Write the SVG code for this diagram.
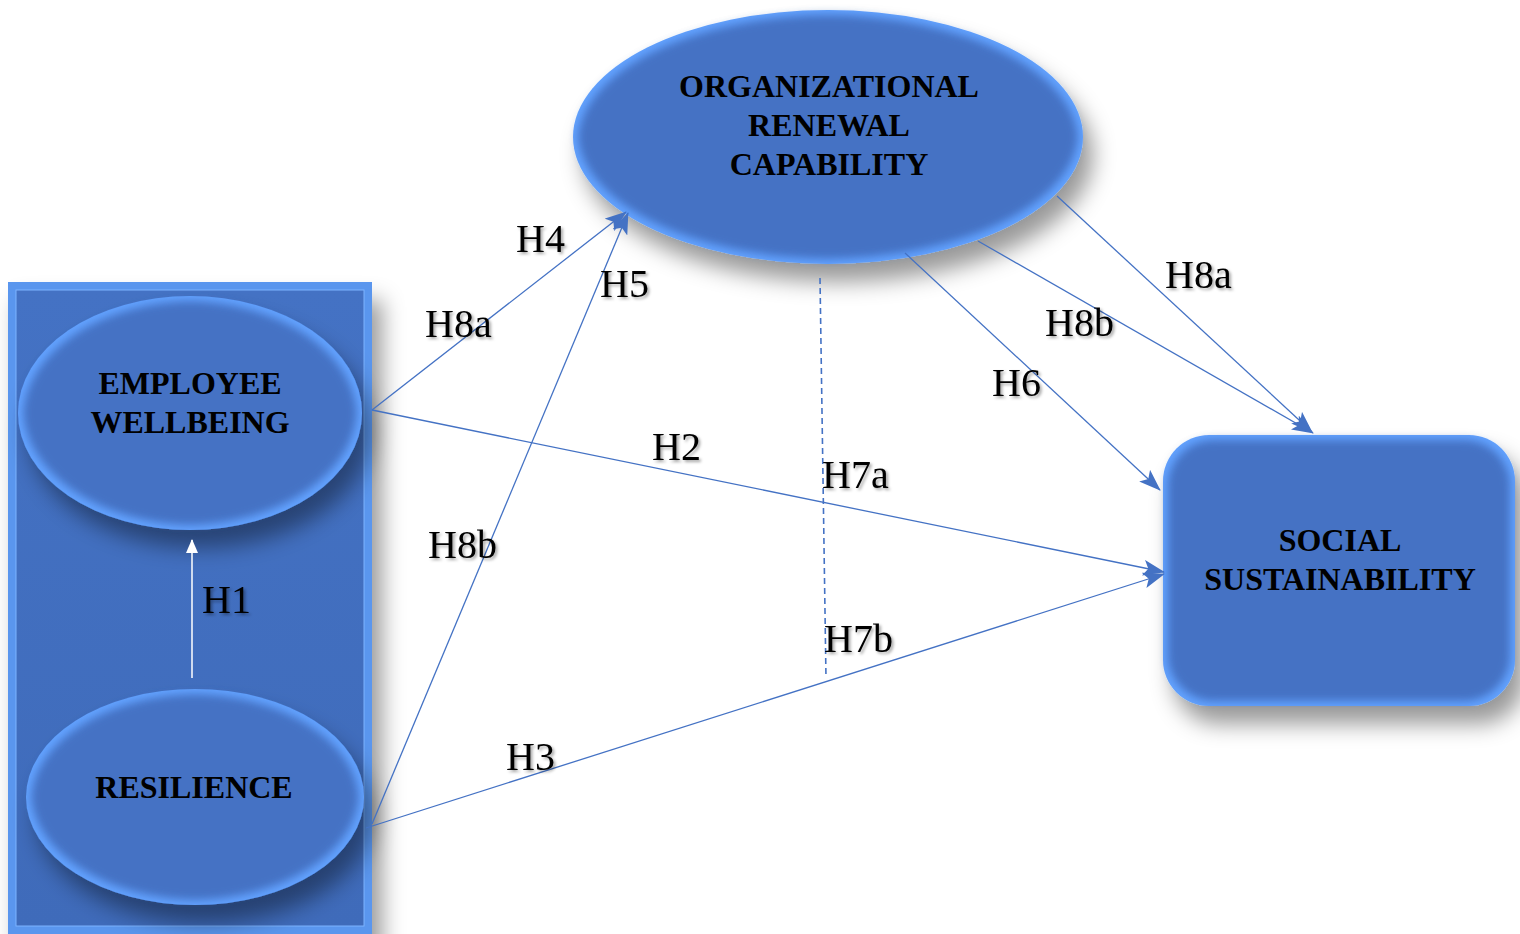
<svg xmlns="http://www.w3.org/2000/svg" width="1520" height="934" viewBox="0 0 1520 934">
  <defs>
    <style>
      .node-text { font-family: "Liberation Serif", "Times New Roman", serif; font-weight: bold; font-size: 32px; fill: #000; text-anchor: middle; }
      .hyp { font-family: "Liberation Serif", "Times New Roman", serif; font-size: 40px; fill: #000; filter: url(#textShadow); }
      .link { fill: none; stroke: #4472C4; stroke-width: 1.3; marker-end: url(#arrow); }
      .rim { fill: #62A2FF; }
      .face { fill: #4472C4; filter: url(#softEdge); }
    </style>
    <!-- drop shadow under shapes -->
    <filter id="shadow" x="-20%" y="-20%" width="150%" height="170%">
      <feGaussianBlur in="SourceAlpha" stdDeviation="11"/>
      <feOffset dx="10" dy="18" result="b"/>
      <feFlood flood-color="#000" flood-opacity="0.4"/>
      <feComposite in2="b" operator="in"/>
      <feMerge><feMergeNode/><feMergeNode in="SourceGraphic"/></feMerge>
    </filter>
    <!-- soft inner edge: shrink then blur the face so the lighter rim shows through -->
    <filter id="softEdge" x="-10%" y="-10%" width="120%" height="120%">
      <feMorphology in="SourceGraphic" operator="erode" radius="5"/>
      <feGaussianBlur stdDeviation="4"/>
    </filter>
    <filter id="textShadow" x="-20%" y="-30%" width="150%" height="170%">
      <feDropShadow dx="2" dy="2" stdDeviation="1.5" flood-color="#000" flood-opacity="0.35"/>
    </filter>
    <linearGradient id="frameFace" x1="0" y1="0" x2="0" y2="1">
      <stop offset="0" stop-color="#4472C4"/>
      <stop offset="1" stop-color="#3F6BBA"/>
    </linearGradient>
    <marker id="arrow" viewBox="0 0 22 16" refX="21" refY="8" markerUnits="userSpaceOnUse" markerWidth="22" markerHeight="16" orient="auto">
      <path d="M0,0 L22,8 L0,16 L5,8 z" fill="#4472C4"/>
    </marker>
    <marker id="arrowWhite" viewBox="0 0 14 12" refX="13" refY="6" markerUnits="userSpaceOnUse" markerWidth="14" markerHeight="12" orient="auto">
      <path d="M0,0 L14,6 L0,12 z" fill="#FFFFFF"/>
    </marker>
  </defs>

  <rect width="1520" height="934" fill="#FFFFFF"/>

  <!-- container frame holding the two antecedent constructs -->
  <g id="frame">
    <rect x="8" y="282" width="364" height="660" fill="#5A96EE" filter="url(#shadow)"/>
    <rect x="16" y="290" width="348" height="636" fill="url(#frameFace)" stroke="#7DB3FF" stroke-width="1"/>
  </g>

  <g id="employee-wellbeing">
    <g filter="url(#shadow)">
      <ellipse class="rim" cx="190" cy="413" rx="172" ry="117"/>
    </g>
    <ellipse class="face" cx="190" cy="413" rx="172" ry="117"/>
    <text class="node-text" x="190" y="394">EMPLOYEE</text>
    <text class="node-text" x="190" y="433">WELLBEING</text>
  </g>

  <g id="resilience">
    <g filter="url(#shadow)">
      <ellipse class="rim" cx="195" cy="797" rx="169" ry="108"/>
    </g>
    <ellipse class="face" cx="195" cy="797" rx="169" ry="108"/>
    <text class="node-text" x="194" y="798">RESILIENCE</text>
  </g>

  <g id="organizational-renewal-capability">
    <g filter="url(#shadow)">
      <ellipse class="rim" cx="828" cy="137" rx="255" ry="127"/>
    </g>
    <ellipse class="face" cx="828" cy="137" rx="255" ry="127"/>
    <text class="node-text" x="829" y="97">ORGANIZATIONAL</text>
    <text class="node-text" x="829" y="136">RENEWAL</text>
    <text class="node-text" x="829" y="175">CAPABILITY</text>
  </g>

  <g id="social-sustainability">
    <g filter="url(#shadow)">
      <rect class="rim" x="1163" y="435" width="352" height="271" rx="46"/>
    </g>
    <rect class="face" x="1163" y="435" width="352" height="271" rx="46"/>
    <text class="node-text" x="1340" y="551">SOCIAL</text>
    <text class="node-text" x="1340" y="590">SUSTAINABILITY</text>
  </g>

  <g id="connectors">
    <path class="link" d="M372,410 L626,212"/>
    <path class="link" d="M372,824 L628,213"/>
    <path class="link" d="M372,410 L1164,572"/>
    <path class="link" d="M366,828 L1164,574"/>
    <path class="link" d="M905,253 L1160,490"/>
    <path class="link" d="M978,241 L1313,433"/>
    <path class="link" d="M1057,196 L1312,432"/>
    <path d="M820,278 L826,678" fill="none" stroke="#4472C4" stroke-width="1.6" stroke-dasharray="6 4"/>
    <path d="M192,678 L192,540" fill="none" stroke="#FFFFFF" stroke-width="1.5" marker-end="url(#arrowWhite)"/>
  </g>

  <g id="hypothesis-labels">
    <text class="hyp" x="516" y="252">H4</text>
    <text class="hyp" x="600" y="297">H5</text>
    <text class="hyp" x="425" y="337">H8a</text>
    <text class="hyp" x="652" y="460">H2</text>
    <text class="hyp" x="822" y="488">H7a</text>
    <text class="hyp" x="428" y="558">H8b</text>
    <text class="hyp" x="202" y="613">H1</text>
    <text class="hyp" x="824" y="652">H7b</text>
    <text class="hyp" x="506" y="770">H3</text>
    <text class="hyp" x="992" y="396">H6</text>
    <text class="hyp" x="1045" y="336">H8b</text>
    <text class="hyp" x="1165" y="288">H8a</text>
  </g>
</svg>
